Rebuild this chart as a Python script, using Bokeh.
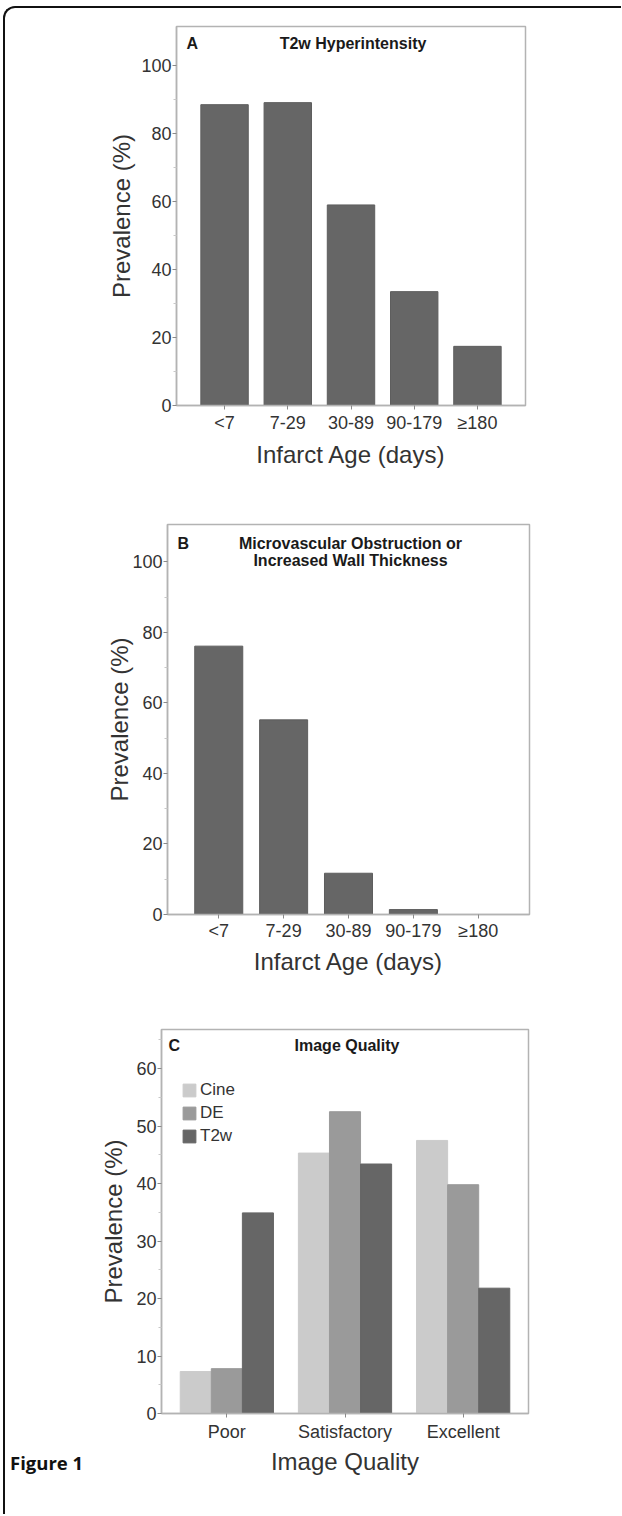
from bokeh.plotting import figure
from bokeh.models import FactorRange, Range1d, Label, Legend, LegendItem, FixedTicker, Spacer, Div
from bokeh.layouts import column, row
from bokeh.transform import dodge
from bokeh.embed import file_html
from bokeh.resources import INLINE

# ---------------- data ----------------
age_groups = ["<7", "7-29", "30-89", "90-179", "≥180"]
t2w_hyperintensity = [88.5, 89.1, 59.0, 33.5, 17.4]
mvo_or_wall = [76.1, 55.2, 11.7, 1.4, 0.0]

quality_levels = ["Poor", "Satisfactory", "Excellent"]
cine_quality = [7.3, 45.3, 47.5]
de_quality = [7.8, 52.5, 39.8]
t2w_quality = [34.9, 43.4, 21.8]

ticks_ab = [0, 20, 40, 60, 80, 100]
minor_ab = [10, 30, 50, 70, 90]
ticks_c = [0, 10, 20, 30, 40, 50, 60]
minor_c = [5, 15, 25, 35, 45, 55, 65]

# ---------------- style ----------------
FONT = "Liberation Sans"
TXT = "#333333"
FRAME = "#b3b3b3"
BAR = "#666666"
C_CINE, C_DE, C_T2W = "#cbcbcb", "#9a9a9a", "#666666"
W = 616          # content width
LB = 90          # left border of panels A and B


def style(p, ticks, minor, ylab_standoff, xlab_standoff, xtick_standoff):
    p.outline_line_color = FRAME
    p.outline_line_width = 1.5
    p.xgrid.visible = False
    p.ygrid.visible = False
    p.yaxis.ticker = FixedTicker(ticks=ticks, minor_ticks=minor)
    for ax in (p.xaxis[0], p.yaxis[0]):
        ax.axis_line_color = FRAME
        ax.axis_line_width = 1.5
        ax.major_tick_line_color = "#8a8a8a"
        ax.major_tick_out = 4
        ax.major_tick_in = 0
        ax.minor_tick_line_color = "#c8c8c8"
        ax.minor_tick_out = 3
        ax.minor_tick_in = 0
        ax.major_label_text_font = FONT
        ax.major_label_text_font_size = "18px"
        ax.major_label_text_color = TXT
        ax.axis_label_text_font = FONT
        ax.axis_label_text_font_size = "24px"
        ax.axis_label_text_font_style = "normal"
        ax.axis_label_text_color = TXT
    p.yaxis.major_label_standoff = 1
    p.yaxis.axis_label_standoff = ylab_standoff
    p.xaxis.major_label_standoff = xtick_standoff
    p.xaxis.axis_label_standoff = xlab_standoff


def title_labels(p, letter, lines, fw, fh, letter_dx, top_dy, line_gap=17.3):
    p.add_layout(Label(x=letter_dx, y=fh - top_dy, x_units="screen", y_units="screen",
                       text=letter, text_font=FONT, text_font_style="bold",
                       text_font_size="16px", text_color="#1a1a1a",
                       text_baseline="middle", text_align="left"))
    for i, line in enumerate(lines):
        p.add_layout(Label(x=fw / 2 + 2, y=fh - top_dy - i * line_gap,
                           x_units="screen", y_units="screen",
                           text=line, text_font=FONT, text_font_style="bold",
                           text_font_size="16px", text_color="#1a1a1a",
                           text_baseline="middle", text_align="center"))


# ---------------- panel A ----------------
fwA, fhA = 349, 379
shiftA = 81
pA = figure(x_range=FactorRange(factors=age_groups, range_padding=0.26,
                                range_padding_units="absolute"),
            y_range=Range1d(0, 111.5),
            frame_width=fwA, frame_height=fhA,
            min_border_left=LB, min_border_right=W - shiftA - LB - fwA,
            min_border_top=18, min_border_bottom=85,
            output_backend="svg", toolbar_location=None)
pA.vbar(x=age_groups, top=t2w_hyperintensity, width=0.75,
        fill_color=BAR, line_color="#5e5e5e", line_width=1)
pA.xaxis.axis_label = "Infarct Age (days)"
pA.yaxis.axis_label = "Prevalence (%)"
style(pA, ticks_ab, minor_ab, ylab_standoff=3, xlab_standoff=5, xtick_standoff=3)
title_labels(pA, "A", ["T2w Hyperintensity"], fwA, fhA, 10, 17)

# ---------------- panel B ----------------
fwB, fhB = 362, 390
shiftB = 72
pB = figure(x_range=FactorRange(factors=age_groups, range_padding=0.29,
                                range_padding_units="absolute"),
            y_range=Range1d(0, 110.6),
            frame_width=fwB, frame_height=fhB,
            min_border_left=LB, min_border_right=W - shiftB - LB - fwB,
            min_border_top=34, min_border_bottom=76,
            output_backend="svg", toolbar_location=None)
pB.vbar(x=age_groups, top=mvo_or_wall, width=0.74,
        fill_color=BAR, line_color="#5e5e5e", line_width=1)
pB.xaxis.axis_label = "Infarct Age (days)"
pB.yaxis.axis_label = "Prevalence (%)"
style(pB, ticks_ab, minor_ab, ylab_standoff=-4, xlab_standoff=4, xtick_standoff=2)
title_labels(pB, "B", ["Microvascular Obstruction or", "Increased Wall Thickness"],
             fwB, fhB, 10, 19)

# ---------------- panel C ----------------
fwC, fhC = 367, 384
capW = 85
LBC = 71
hC = 524
pC = figure(x_range=FactorRange(factors=quality_levels, range_padding=0.053,
                                range_padding_units="absolute"),
            y_range=Range1d(0, 66.8),
            frame_width=fwC, frame_height=fhC,
            min_border_left=LBC, min_border_right=W - capW - LBC - fwC,
            min_border_top=39, min_border_bottom=hC - 39 - fhC,
            output_backend="svg", toolbar_location=None)
bw = 0.263
src = dict(q=quality_levels, cine=cine_quality, de=de_quality, t2w=t2w_quality)
r1 = pC.vbar(x=dodge("q", -bw, range=pC.x_range), top="cine", width=bw, source=src,
             fill_color=C_CINE, line_color=C_CINE)
r2 = pC.vbar(x=dodge("q", 0.0, range=pC.x_range), top="de", width=bw, source=src,
             fill_color=C_DE, line_color=C_DE)
r3 = pC.vbar(x=dodge("q", bw, range=pC.x_range), top="t2w", width=bw, source=src,
             fill_color=C_T2W, line_color=C_T2W)
pC.xaxis.axis_label = "Image Quality"
pC.yaxis.axis_label = "Prevalence (%)"
style(pC, ticks_c, minor_c, ylab_standoff=6, xlab_standoff=3, xtick_standoff=4)
title_labels(pC, "C", ["Image Quality"], fwC, fhC, 7, 16)

legend = Legend(items=[LegendItem(label="Cine", renderers=[r1]),
                       LegendItem(label="DE", renderers=[r2]),
                       LegendItem(label="T2w", renderers=[r3])],
                location=(20, fhC - 51 - 66),
                glyph_width=16, glyph_height=16, label_height=16,
                label_standoff=3, spacing=3, padding=0, margin=0,
                label_text_font=FONT, label_text_font_size="17px",
                label_text_color=TXT,
                border_line_color=None, background_fill_alpha=0)
pC.add_layout(legend)

# caption to the left of panel C
cap = Div(text=('<div style="padding-top:464px;padding-left:5px;'
                'font-family:\'Open Sans\';font-weight:bold;font-size:18.5px;'
                'line-height:1;color:#111111;white-space:nowrap">Figure 1</div>'),
          width=capW, height=hC, margin=0)

inner = column(row(Spacer(width=shiftA, height=10), pA),
               row(Spacer(width=shiftB, height=10), pB),
               row(cap, pC),
               spacing=0,
               styles={"border-top": "2px solid #111111",
                       "border-left": "2px solid #111111",
                       "border-top-left-radius": "12px"})
layout = column(Spacer(height=6, width=10), row(Spacer(width=3, height=10), inner))

open("out.html", "w").write(file_html(layout, INLINE))
